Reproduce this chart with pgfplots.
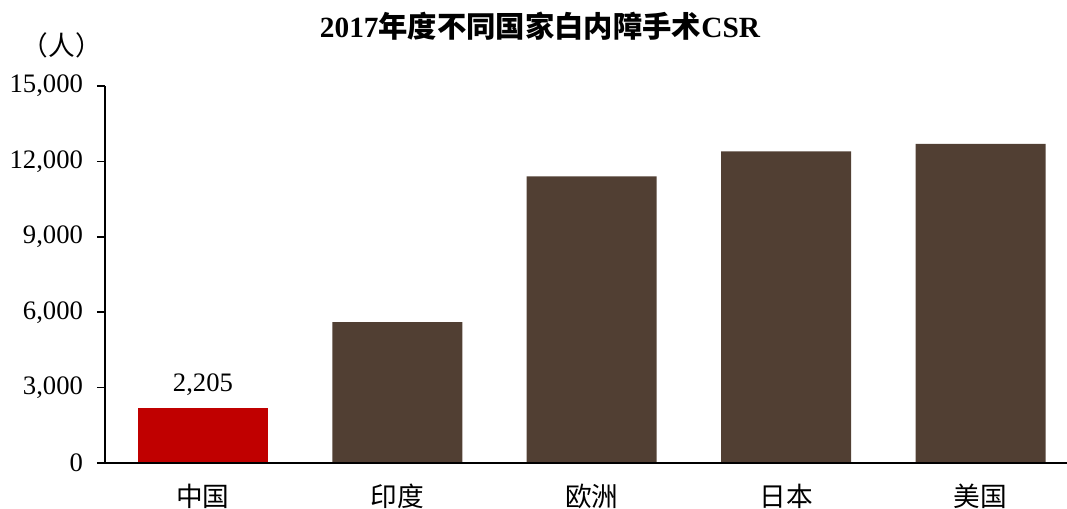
\documentclass[border=0pt]{standalone}
\usepackage{fontspec}
\setmainfont{Liberation Serif}
\newfontfamily\cjk{Noto Sans CJK SC}
\usepackage{pgfplots}
\pgfplotsset{compat=1.18}
\definecolor{barbrown}{HTML}{513F33}
\definecolor{barred}{HTML}{C00000}
\begin{document}
\begin{tikzpicture}[x=0.75pt,y=0.75pt]
\path[use as bounding box] (-105,-46) rectangle (962,463);
\begin{axis}[
    at={(0,0)}, anchor=south west,
    scale only axis,
    width=721.5pt, height=282.75pt,
    ybar, bar width=97.5pt, bar shift=0pt,
    xmin=-0.504, xmax=4.445,
    ymin=0, ymax=15000,
    ytick={0,3000,6000,9000,12000,15000},
    xtick={0,1,2,3,4},
    xticklabels={{\cjk 中国},{\cjk 印度},{\cjk 欧洲},{\cjk 日本},{\cjk 美国}},
    axis x line*=bottom, axis y line*=left,
    x axis line style={-, line width=1.6pt},
    y axis line style={-, line width=1.6pt},
    xtick style={draw=none},
    ytick style={black, line width=1.2pt},
    tick align=outside, major tick length=6pt,
    tick label style={font=\fontsize{20}{24}\selectfont},
    yticklabel style={xshift=-7pt},
    xticklabel style={yshift=-6pt},
    /pgf/number format/assume math mode=true,
    /pgf/number format/1000 sep={,},
    scaled y ticks=false,
    clip=false,
]
\addplot[fill=barred, draw=none,
    nodes near coords,
    every node near coord/.append style={font=\fontsize{20}{24}\selectfont, yshift=5.5pt},
] coordinates {(0,2205)};
\addplot[fill=barbrown, draw=none] coordinates {(1,5600) (2,11400) (3,12400) (4,12700)};
\end{axis}
\node[font=\fontsize{22}{26}\selectfont\bfseries] at (435,437) {2017{\cjk 年度不同国家白内障手术}CSR};
\node[font=\fontsize{20}{24}\selectfont] at (-43,418) {\cjk （人）};
\draw[line width=1.6pt] (0,0) -- (962,0);
\end{tikzpicture}
\end{document}
